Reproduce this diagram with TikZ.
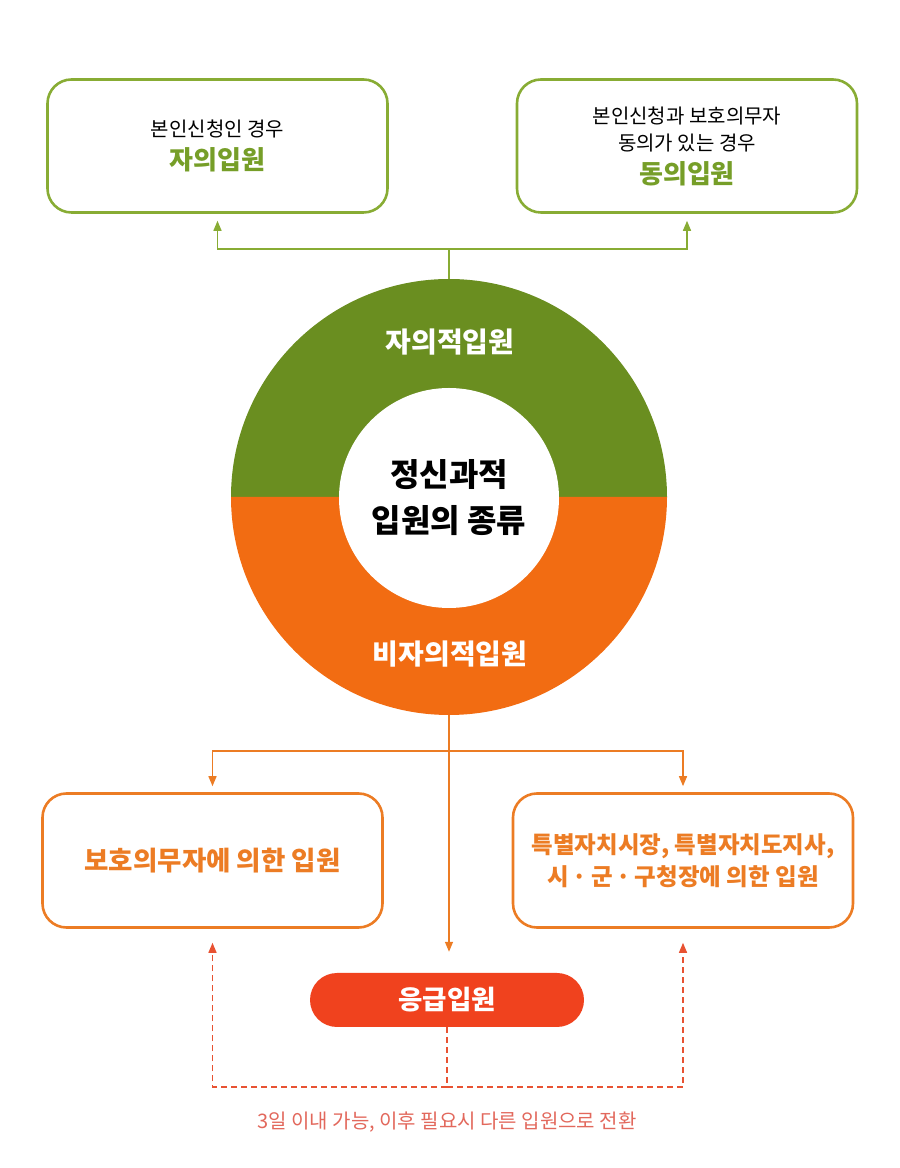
\documentclass[tikz,border=0pt]{standalone}
\usepackage{fontspec}
\setmainfont{Noto Sans CJK KR}
\usepackage{xcolor}
\usetikzlibrary{arrows.meta,positioning}
\definecolor{ringgreen}{RGB}{106,142,32}
\definecolor{boxgreen}{RGB}{136,172,52}
\definecolor{textgreen}{RGB}{118,158,40}
\definecolor{ringorange}{RGB}{242,108,18}
\definecolor{boxorange}{RGB}{236,124,36}
\definecolor{pillred}{RGB}{240,66,30}
\definecolor{dashred}{RGB}{232,82,50}
\definecolor{notered}{RGB}{226,104,92}
\newcommand{\fsz}[2]{\fontsize{#1}{#2}\selectfont}

\begin{document}
\begin{tikzpicture}[
    x=1pt, y=1pt,
    greenbox/.style={rectangle,draw=boxgreen,line width=2.6pt,rounded corners=24pt,align=center,minimum width=340pt,minimum height=133pt,font=\fsz{20}{27}},
    orangebox/.style={rectangle,draw=boxorange,line width=2.6pt,rounded corners=24pt,align=center,minimum width=340pt,minimum height=134pt,text=boxorange,font=\bfseries\fsz{23.5}{32}},
    hub/.style={circle,fill=white,minimum size=220pt,inner sep=0pt,align=center,font=\bfseries\fsz{32}{46}},
    ringlabel/.style={text=white,font=\bfseries\fsz{28}{34}},
    pill/.style={rectangle,fill=pillred,rounded corners=27pt,minimum width=274pt,minimum height=54pt,text=white,font=\bfseries\fsz{26.5}{32}},
    note/.style={text=notered,font=\fsz{20}{26}},
    garrow/.style={-{Triangle[length=10pt,width=8pt]},draw=boxgreen,line width=1.4pt},
    oarrow/.style={-{Triangle[length=10pt,width=8pt]},draw=boxorange,line width=1.4pt},
    dasharrow/.style={-{Triangle[length=10pt,width=8pt]},draw=dashred,line width=1.4pt,dash pattern=on 6pt off 4pt}
]
\useasboundingbox (0,0) rectangle (900,1168);

% ring in two halves
\fill[ringgreen] (231,671) arc[start angle=180,end angle=0,radius=218] -- cycle;
\fill[ringorange] (231,671) arc[start angle=180,end angle=360,radius=218] -- cycle;
\node[circle,minimum size=436pt,inner sep=0pt] (ring) at (449,671) {};
\node[hub] (hub) at (449,670) {정신과적\\입원의 종류};
\node[ringlabel] (vol) at (450,826) {자의적입원};
\node[ringlabel] (invol) at (450,514) {비자의적입원};

\node[greenbox] (self) at (217.5,1022) {본인신청인 경우\\[6pt]{\color{textgreen}\bfseries\fsz{26}{30}자의입원}};
\node[greenbox] (agree) at (687,1022) {본인신청과 보호의무자\\동의가 있는 경우\\[6pt]{\color{textgreen}\bfseries\fsz{26}{30}동의입원}};

\node[orangebox,font=\bfseries\fsz{26.5}{32}] (guard) at (212.5,307.5) {보호의무자에 의한 입원};
\node[orangebox] (mayor) at (683,307.5) {특별자치시장, 특별자치도지사,\\시\,·\,군\,·\,구청장에 의한 입원};

\node[pill] (emerg) at (447,168) {응급입원};
\node[note] (conv) at (447,46) {3일 이내 가능, 이후 필요시 다른 입원으로 전환};

\coordinate (topjoin) at (449,919);
\coordinate (botjoin) at (449,417);
\coordinate (dashjoin) at (447,81);

\draw[draw=boxgreen,line width=1.4pt] (ring.north) -- (topjoin);
\draw[garrow,shorten >=7pt] (topjoin) -| (self.south);
\draw[garrow,shorten >=7pt] (topjoin) -| (agree.south);

\draw[oarrow,shorten >=21pt] (ring.south) -- (ring.south |- emerg.north);
\draw[oarrow,shorten >=6pt] (botjoin) -| (guard.north);
\draw[oarrow,shorten >=6pt] (botjoin) -| (mayor.north);

\draw[draw=dashred,line width=1.4pt,dash pattern=on 6pt off 4pt] (emerg.south) -- (dashjoin);
\draw[dasharrow,shorten >=14pt] (dashjoin) -| (guard.south);
\draw[dasharrow,shorten >=14pt] (dashjoin) -| (mayor.south);
\end{tikzpicture}
\end{document}
